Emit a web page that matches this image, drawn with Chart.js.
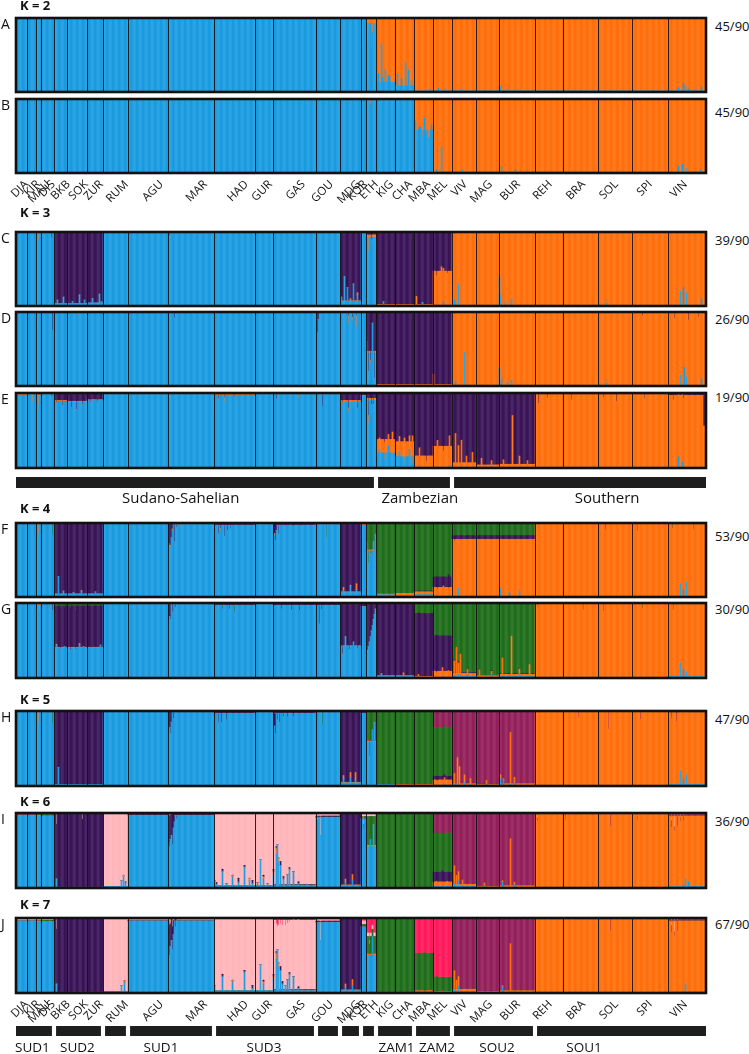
<!DOCTYPE html>
<html><head><meta charset="utf-8">
<script src="https://cdn.jsdelivr.net/npm/chart.js@4/dist/chart.umd.min.js"></script>
<style>
html,body{margin:0;padding:0;background:#fff;}
body{width:749px;height:1054px;position:relative;overflow:hidden;font-family:'Open Sans',sans-serif;}
canvas{position:absolute;}
.t{position:absolute;white-space:nowrap;color:#111;line-height:1;}
.rot{position:absolute;white-space:nowrap;color:#151515;font-size:11.5px;line-height:12px;transform-origin:0 0;transform:rotate(-45deg) translate(-100%,-50%);}
</style></head><body>
<script>
// ---------------- DATA ----------------
const populations = ['DJA','KIR','MAU','DIS','BKB','SOK','ZUR','RUM','AGU','MAR','HAD','GUR','GAS','GOU','MDG','KOR','ETH','KIG','CHA','MBA','MEL','VIV','MAG','BUR','REH','BRA','SOL','SPI','VIN'];
const sampleSizes = [11,9,5,13,13,20,16,25,40,46,41,18,43,24,21,5,10,19,19,19,19,24,23,36,28,35,34,36,38];
// individual index at which each rotated population label is anchored
const popLabelTick = [9,21,31,36,51,69,84,109,144,188,229,253,286,314,341,348,359,374,393,411,428,448,473,501,533,566,599,633,668];
const clusterNames = ['cl1','cl2','cl3','cl4','cl5','cl6','cl7'];
const clusterColors = ['#1b9be0','#ff6f0c','#3a1457','#1f6e1c','#92205a','#ffb5bb','#ff1a5c'];

const panelLetters = ['A','B','C','D','E','F','G','H','I','J'];
const panelK = [2,2,3,3,3,4,4,5,6,7];
const runSupport = ['45/90','45/90','39/90','26/90','19/90','53/90','30/90','47/90','36/90','67/90'];

// K=2 : [blue, orange]
const baseA = [[99,1],[99,1],[99,1],[99,1],[99,1],[99,1],[99,1],[99,1],[99,1],[99,1],[99,1],[99,1],[99,1],[99,1],[99,1],[99,1],[93,7],[13,87],[8,92],[1.5,98.5],[1.5,98.5],[1.5,98.5],[1.5,98.5],[1.5,98.5],[1.5,98.5],[1.5,98.5],[1.5,98.5],[1.5,98.5],[1.5,98.5]];
const spikesA = [[16,1,1,65,35],[16,3,1,88,12],[16,5,1,60,40],[16,6,1,80,20],[16,8,1,90,10],
 [17,2,1,25,75],[17,5,1,65,35],[17,6,1,20,80],[17,9,1,30,70],[17,12,2,22,78],[17,15,1,10,90],
 [18,2,1,25,75],[18,6,1,18,82],[18,10,1,40,60],[18,13,1,30,70],[18,16,1,15,85],
 [19,15,1,4,96],[20,5,1,5,95],[20,12,1,4,96],[21,10,1,3,97],[23,1,1,8,92],[23,8,1,4,96],[23,18,1,3,97],
 [28,10,1,6,94],[28,15,1,12,88],[28,17,1,8,92],[28,20,1,4,96],[28,33,1,7,93]];
const baseB = [[99,1],[99,1],[99,1],[99,1],[99,1],[99,1],[99,1],[99,1],[99,1],[99,1],[99,1],[99,1],[99,1],[99,1],[99,1],[99,1],[98,2],[98,2],[99,1],[58,42],[2,98],[1.5,98.5],[1.5,98.5],[1.5,98.5],[1.5,98.5],[1.5,98.5],[1.5,98.5],[1.5,98.5],[1.5,98.5]];
const spikesB = [[16,4,1,92,8],[19,0,2,70,30],[19,3,1,45,55],[19,5,2,62,38],[19,8,1,50,50],[19,10,1,75,25],[19,12,1,55,45],[19,14,2,48,52],[19,17,1,65,35],
 [20,8,1,35,65],[20,3,1,5,95],[21,10,1,4,96],[23,2,1,9,91],[23,16,1,5,95],
 [28,10,1,10,90],[28,14,1,12,88],[28,18,1,6,94],[28,32,1,5,95]];

// K=3 : [blue, orange, purple]
const baseC = [[99,0,1],[99,0,1],[98,1,1],[99,0,1],[3,0,97],[3,0,97],[4,0,96],[99,0,1],[99,0,1],[98,1,1],[99,0,1],[99,0,1],[99,0,1],[99,0,1],[6,1,93],[98,0,2],[93,3,4],[1,1,98],[1,1,98],[1,1,98],[1,46,53],[1,98,1],[1,98,1],[1,98,1],[1,98,1],[1,98,1],[1,98,1],[1,98,1],[1,98,1]];
const spikesC = [[2,2,1,90,10,0],[3,10,1,92,0,8],[4,3,1,8,0,92],[4,9,1,12,0,88],[5,5,1,6,0,94],[5,12,1,15,0,85],[5,17,1,8,0,92],[6,5,1,10,0,90],[6,12,1,16,0,84],[6,14,1,6,0,94],
 [9,1,1,90,5,5],[14,1,1,12,0,88],[14,4,1,40,0,60],[14,7,1,25,0,75],[14,10,1,8,2,90],[14,13,1,30,0,70],[14,17,1,15,3,82],
 [16,2,1,75,20,5],[16,5,1,85,5,10],[17,7,1,6,0,94],[19,2,1,1,12,87],[19,8,1,5,0,95],
 [20,3,1,1,40,59],[20,8,1,1,52,47],[20,14,1,0,44,56],[20,10,1,6,45,49],
 [21,6,1,30,69,1],[21,2,1,8,91,1],[23,0,1,40,59,1],[23,1,1,15,84,1],[23,6,1,6,93,1],[23,12,1,10,89,1],[26,8,1,4,95,1],
 [28,12,1,20,79,1],[28,15,1,25,74,1],[28,18,1,18,81,1],[28,33,1,10,89,1]];
const baseD = [[99,0,1],[99,0,1],[99,0,1],[99,0,1],[99,0,1],[99,0,1],[99,0,1],[99,0.5,0.5],[99,0.5,0.5],[99,0.5,0.5],[99,0.5,0.5],[99,0.5,0.5],[99,0.5,0.5],[99,0.5,0.5],[98,1,1],[99,0,1],[45,2,53],[1,1,98],[1,1,98],[1,1,98],[1,1,98],[1,98,1],[1,98,1],[1,98,1],[1,98,1],[1,98,1],[1,98,1],[1,98,1],[1,98,1]];
const spikesD = [[2,1,1,80,20,0],[3,11,1,75,0,25],[5,10,2,96,4,0],[9,6,1,92,0,8],[10,1,1,95,5,0],[13,1,1,72,0,28],[13,2,1,90,0,10],
 [14,8,1,85,10,5],[14,12,1,88,5,7],[14,16,1,80,15,5],
 [16,0,1,60,0,40],[16,2,1,20,0,80],[16,4,1,30,5,65],[16,6,1,85,0,15],[16,8,1,10,0,90],
 [20,0,1,1,15,84],[21,12,1,45,54,1],[21,3,1,6,93,1],[23,0,1,25,74,1],[23,2,1,10,89,1],[23,8,1,5,94,1],[23,12,1,8,91,1],
 [27,10,1,1,94,5],[28,6,1,1,90,9],[28,20,1,1,88,11],[28,30,1,1,92,7],
 [28,12,1,15,84,1],[28,16,1,25,74,1],[28,18,1,12,87,1],[28,33,1,10,89,1],[26,8,1,4,95,1]];
const baseE = [[97,1,2],[98,1,1],[96,2,2],[98,1,1],[89,1,10],[88,1,11],[90,1,9],[98,1,1],[98,1,1],[98,1,1],[97,1,2],[98,1,1],[98,1,1],[98,1,1],[88,2,10],[96,1,3],[90,3,7],[20,18,62],[15,20,65],[1,15,84],[1,28,71],[1,6,93],[1,3,96],[1,4,95],[1,97,2],[1,97,2],[1,97,2],[1,97,2],[1,96,3]];
const spikesE = [[1,5,1,88,10,2],[2,2,1,85,12,3],[3,10,1,94,1,5],[4,2,1,85,2,13],[4,8,1,82,1,17],[5,4,1,80,1,19],[5,9,1,76,2,22],[5,15,1,84,1,15],[6,3,1,86,2,12],[6,10,1,87,1,12],
 [9,1,1,94,4,2],[10,0,1,72,3,25],[10,4,1,90,2,8],[10,10,1,88,6,6],[10,20,1,93,2,5],[11,4,1,92,5,3],[12,3,1,90,2,8],[12,25,1,93,4,3],[13,6,1,82,0,18],
 [14,2,1,85,3,12],[14,8,1,75,5,20],[14,13,1,80,10,10],[14,17,1,78,2,20],[16,2,1,60,10,30],[16,5,1,70,15,15],[16,7,1,80,5,15],
 [17,3,1,25,15,60],[17,8,1,12,22,66],[17,12,1,30,15,55],[17,16,1,18,30,52],[18,4,1,22,20,58],[18,9,1,10,30,60],[18,14,1,25,18,57],[18,17,1,5,38,57],
 [19,5,1,2,25,73],[19,12,1,1,8,91],[20,4,1,2,35,63],[20,10,1,1,22,77],[20,16,1,3,40,57],
 [21,3,1,1,45,54],[21,6,1,0,30,70],[21,9,1,2,35,63],[21,14,1,1,15,84],[21,20,1,1,20,79],[22,5,1,1,12,87],[22,15,1,2,8,90],
 [23,4,1,1,10,89],[23,13,1,0,70,30],[23,20,1,2,14,84],[23,28,1,1,9,90],
 [24,3,1,1,85,14],[24,12,1,1,92,7],[25,8,1,1,90,9],[26,5,1,1,93,6],[26,18,1,1,88,11],[27,12,1,1,91,8],[28,5,1,1,90,9],[28,15,1,1,92,7],
 [28,10,1,15,83,2],[28,14,1,8,90,2],[28,35,3,1,55,44]];

// K=4 : [blue, orange, purple, green]
const baseF = [[99,0,1,0],[99,0,1,0],[98,1,1,0],[98,0,1,1],[4,0,96,0],[4,0,96,0],[4,0,96,0],[99,0,1,0],[99,0,1,0],[98,0,2,0],[97,0,3,0],[98,0,1,1],[97,0,3,0],[98,0,1,1],[6,1,93,0],[97,1,1,1],[62,2,0,36],[3,1,0,96],[2,3,0,95],[3,4,1,92],[1,12,14,73],[1,77,5,17],[1,77,5,17],[1,77,5,17],[1,98,0,1],[1,98,0,1],[1,98,0,1],[1,98,0,1],[1,97,0,2]];
const spikesF = [[2,2,1,85,15,0,0],[3,11,1,85,0,0,15],[4,4,1,28,0,72,0],[4,9,1,8,0,92,0],[5,6,1,6,0,94,0],[5,14,1,8,1,91,0],[6,8,1,7,0,93,0],
 [9,0,1,72,0,28,0],[9,1,2,68,2,30,0],[9,3,1,80,0,20,0],[9,4,1,90,2,8,0],[9,6,1,75,0,25,0],[9,8,1,94,0,6,0],[9,12,1,95,3,2,0],
 [10,0,1,88,2,10,0],[10,4,1,85,0,15,0],[10,6,1,90,3,7,0],[10,10,1,82,0,18,0],[10,13,1,86,4,10,0],[10,16,1,92,0,8,0],
 [12,0,1,80,0,20,0],[12,1,1,84,2,14,0],[12,2,1,76,0,24,0],[12,3,1,90,0,10,0],[12,5,1,85,0,15,0],[12,12,1,92,4,4,0],[12,20,1,95,0,5,0],[12,28,1,93,3,4,0],
 [13,10,1,80,0,0,20],[14,3,1,9,4,87,0],[14,10,1,15,1,84,0],[14,16,1,10,8,82,0],
 [16,0,1,70,5,0,25],[16,2,1,45,0,0,55],[16,4,1,55,3,0,42],[16,7,1,75,0,0,25],[16,9,1,85,0,0,15],
 [20,4,1,2,9,16,73],[20,10,1,1,14,12,73],[20,15,1,2,10,18,70],[21,2,1,1,75,6,18],[21,6,1,12,65,5,18],[21,12,1,1,77,4,18],
 [23,1,1,12,66,5,17],[23,10,1,6,72,5,17],[23,20,1,8,70,5,17],
 [26,7,1,1,90,0,9],[27,5,1,1,88,0,11],[28,4,1,1,92,0,7],[28,25,1,1,90,0,9],[28,12,1,18,81,0,1],[28,15,1,10,89,0,1],[28,18,1,20,79,0,1],[28,37,1,1,70,0,29]];
const baseG = [[99,0,0,1],[99,0,0,1],[97,2,0,1],[98,0,1,1],[40,1,55,4],[40,1,55,4],[40,1,55,4],[99,0,0,1],[98,0,1,1],[98,0,1,1],[97,0,1,2],[98,0,1,1],[97,0,2,1],[97,0,2,1],[42,1,55,2],[95,0,5,0],[55,1,44,0],[2,1,97,0],[2,1,97,0],[1,1,84,14],[1,8,47,44],[2,4,1,93],[1,2,0,97],[2,3,1,94],[1,98,0,1],[1,98,0,1],[1,98,0,1],[1,98,0,1],[2,96,0,2]];
const spikesG = [[2,3,1,90,8,1,1],[3,11,1,90,0,10,0],[4,2,1,44,1,50,5],[4,6,1,38,1,54,7],[4,10,1,42,0,52,6],[5,3,1,36,1,56,7],[5,8,1,38,0,52,10],[5,12,1,45,1,50,4],[5,16,1,42,0,53,5],[6,4,1,38,1,55,6],[6,13,1,44,0,52,4],
 [9,0,1,75,0,25,0],[9,1,1,82,0,18,0],[9,2,1,78,0,22,0],[9,4,1,88,0,12,0],[9,7,1,92,2,6,0],
 [10,0,1,78,0,0,22],[10,8,1,92,0,2,6],[10,15,1,90,2,8,0],[10,20,1,88,0,0,12],
 [12,0,1,90,0,10,0],[12,8,1,92,0,5,3],[12,18,1,88,2,10,0],[12,26,1,90,0,4,6],[13,3,1,72,0,28,0],[13,5,1,88,3,9,0],
 [14,2,1,30,2,66,2],[14,5,1,55,0,44,1],[14,9,1,35,3,60,2],[14,13,1,48,0,50,2],[14,17,1,38,1,58,3],
 [16,0,1,30,0,70,0],[16,1,1,35,2,63,0],[16,2,1,42,0,58,0],[16,3,1,48,0,52,0],[16,4,1,55,0,45,0],[16,5,1,62,1,37,0],[16,6,1,70,0,30,0],[16,7,1,78,0,22,0],[16,8,1,85,0,15,0],[16,9,1,92,0,8,0],
 [17,5,1,6,0,94,0],[18,8,1,4,3,93,0],[19,4,1,2,3,82,13],[19,12,1,1,1,82,16],[20,3,1,1,6,50,43],[20,9,1,2,12,42,44],[20,15,1,1,9,46,44],
 [21,2,1,3,20,1,76],[21,4,1,1,40,0,59],[21,6,1,5,15,2,78],[21,8,1,2,30,0,68],[21,15,1,4,8,1,87],[22,3,1,1,10,0,89],[22,15,1,5,4,1,90],
 [23,3,1,2,25,0,73],[23,12,1,1,55,0,44],[23,20,1,6,6,1,87],[23,30,1,3,15,0,82],
 [24,2,1,1,94,0,5],[25,20,1,1,90,0,9],[26,5,1,1,88,1,10],[27,10,1,1,92,0,7],[28,5,1,1,90,0,9],[28,12,1,20,79,0,1],[28,15,1,12,87,0,1],[28,18,1,8,91,0,1],[28,37,1,1,40,0,59]];

// K=5 : [blue, orange, purple, green, maroon]
const baseH = [[99,0,0,1,0],[99,0,0,1,0],[98,1,0,1,0],[98,0,0,2,0],[2,0,98,0,0],[2,0,98,0,0],[2,0,98,0,0],[99,0,1,0,0],[99,0,1,0,0],[98,0,2,0,0],[97,0,3,0,0],[98,0,1,0,1],[97,0,2,0,1],[98,0,0,2,0],[4,1,95,0,0],[97,0,1,2,0],[58,2,0,40,0],[2,0,0,98,0],[1,1,0,98,0],[1,1,0,98,0],[1,7,5,65,22],[1,2,0,0,97],[1,1,0,0,98],[1,2,0,0,97],[1,98,0,0,1],[1,98,0,0,1],[1,98,0,0,1],[1,98,0,0,1],[2,96,0,0,2]];
const spikesH = [[2,2,1,85,15,0,0,0],[3,11,1,84,0,0,16,0],[4,4,1,25,0,75,0,0],
 [9,0,1,72,0,28,0,0],[9,1,1,78,0,22,0,0],[9,2,1,70,0,30,0,0],[9,3,1,85,0,15,0,0],[9,5,1,90,0,10,0,0],
 [10,0,1,88,2,10,0,0],[10,4,1,84,0,16,0,0],[10,7,1,80,5,15,0,0],[10,12,1,88,0,12,0,0],
 [12,0,1,75,0,25,0,0],[12,1,1,80,0,15,0,5],[12,2,1,70,0,25,0,5],[12,4,1,88,0,10,0,2],[12,6,1,85,0,15,0,0],[12,10,1,92,0,5,0,3],[12,14,1,90,2,8,0,0],[12,20,1,93,0,7,0,0],
 [13,6,1,82,0,0,18,0],[14,3,1,10,4,86,0,0],[14,10,1,12,6,82,0,0],[14,15,1,8,10,82,0,0],
 [16,0,1,45,3,0,52,0],[16,3,1,35,5,0,60,0],[16,6,1,75,0,0,25,0],[16,8,1,85,0,0,15,0],
 [20,4,1,1,6,6,63,24],[20,11,1,2,9,4,66,19],
 [21,2,1,2,15,0,0,83],[21,5,1,3,35,0,2,60],[21,7,1,1,25,0,0,74],[21,12,1,5,10,0,0,85],[21,18,1,2,8,0,1,89],[22,10,1,3,5,0,0,92],
 [23,1,1,10,5,0,0,85],[23,4,1,8,2,0,0,90],[23,11,1,2,70,0,0,28],[23,15,1,4,8,0,0,88],
 [25,15,1,1,90,0,0,9],[26,10,1,1,75,0,0,24],[27,8,1,1,88,0,0,11],[28,3,1,1,90,0,0,9],[28,8,1,1,85,0,0,14],
 [28,12,1,20,79,0,0,1],[28,15,1,10,89,0,0,1],[28,18,1,15,84,0,0,1],[28,37,1,1,30,0,0,69]];

// K=6 : [blue, orange, purple, green, maroon, pink]
const baseI = [[97,0,0,0,1,2],[97,0,0,0,1,2],[96,1,0,1,0,2],[96,0,0,2,0,2],[1,0,98,0,0,1],[1,0,98,0,0,1],[1,0,98,0,0,1],[2,0,0,0,0,98],[97,0,1,0,0,2],[97,0,1,0,0,2],[3,0,0,0,0,97],[3,0,0,0,0,97],[3,0,1,0,0,96],[94,0,1,0,1,4],[3,1,95,0,0,1],[92,0,0,3,0,5],[55,2,0,38,0,5],[1,0,0,98,1,0],[1,0,0,98,1,0],[1,0,0,97,2,0],[2,6,13,52,27,0],[2,3,0,0,94,1],[1,1,0,0,97,1],[1,2,0,0,96,1],[1,97,0,0,1,1],[1,97,0,0,1,1],[1,97,0,0,1,1],[1,97,0,0,1,1],[2,94,0,0,2,2]];
const spikesI = [[4,2,1,12,0,73,0,0,15],[5,15,1,1,0,90,0,0,9],[7,18,1,10,0,0,0,0,90],[7,20,1,15,2,0,0,0,83],[7,22,1,8,0,0,0,0,92],
 [9,0,1,60,0,38,0,0,2],[9,1,1,55,0,40,0,0,5],[9,2,1,65,0,32,0,0,3],[9,3,1,70,0,28,0,0,2],[9,4,1,58,0,40,0,0,2],[9,5,1,80,0,18,0,0,2],[9,6,1,88,0,10,0,0,2],[9,8,1,92,0,6,0,0,2],
 [10,0,1,8,2,0,0,0,90],[10,2,1,5,0,2,0,0,93],[10,8,1,22,0,3,0,0,75],[10,12,1,6,0,0,0,0,94],[10,18,1,15,2,0,0,0,83],[10,24,1,8,0,5,0,0,87],[10,30,1,28,0,2,0,0,70],[10,35,1,10,3,0,0,0,87],[10,38,1,6,0,4,0,0,90],
 [11,2,1,5,2,0,0,0,93],[11,5,1,38,0,0,0,0,62],[11,8,1,12,3,2,0,0,83],[11,12,1,6,0,0,0,0,94],
 [12,0,1,20,2,3,0,0,75],[12,3,1,45,8,2,0,0,45],[12,4,1,58,0,0,0,0,42],[12,5,1,35,5,0,0,0,60],[12,7,1,30,0,5,0,0,65],[12,10,1,12,0,3,0,0,85],[12,14,1,18,0,0,0,0,82],[12,16,1,25,0,2,0,0,73],[12,20,1,22,0,0,0,0,78],[12,25,1,6,0,2,0,0,92],[12,33,1,5,0,0,0,0,95],
 [13,4,1,70,0,0,0,0,30],[13,1,1,90,0,0,0,0,10],[14,5,1,8,4,88,0,0,0],[14,12,1,10,8,82,0,0,0],[15,2,1,80,0,0,5,0,15],
 [16,0,1,40,3,0,50,0,7],[16,4,1,65,0,0,30,0,5],[16,7,1,85,0,0,10,0,5],
 [20,3,1,1,8,12,54,25,0],[20,9,1,3,5,15,50,27,0],[20,14,1,2,7,11,55,25,0],
 [21,2,1,5,25,0,0,70,0],[21,4,1,2,15,0,0,83,0],[21,6,1,10,12,0,0,78,0],[21,10,1,3,8,0,0,89,0],[22,8,1,3,4,0,0,93,0],
 [23,3,1,8,2,0,0,90,0],[23,11,1,1,65,0,0,34,0],[23,15,1,4,4,0,0,92,0],
 [24,2,1,1,88,0,0,5,6],[25,2,1,1,90,0,0,9,0],[26,12,1,1,82,0,0,14,3],[27,5,1,1,90,0,0,5,4],[28,3,1,1,80,0,0,9,10],[28,6,1,1,75,0,0,6,18],[28,9,1,1,82,0,0,12,5],[28,12,1,1,88,0,0,5,6],[28,15,1,4,86,0,0,5,5],
 [28,17,1,12,84,0,0,2,2],[28,20,1,8,88,0,0,2,2],[28,37,1,1,40,0,0,59,0]];

// K=7 : [blue, orange, purple, green, maroon, pink, hot pink]
const baseJ = [[96,0,0,0,0,2,2],[96,0,0,0,0,2,2],[95,1,0,1,0,2,1],[95,0,0,2,0,2,1],[1,0,98,0,0,1,0],[1,0,98,0,0,1,0],[1,0,98,0,0,1,0],[2,0,0,0,0,97,1],[96,0,1,0,0,2,1],[96,0,1,0,0,2,1],[3,0,0,0,0,96,1],[3,0,0,0,0,95,2],[3,0,1,0,0,93,3],[94,0,1,0,1,3,1],[3,1,95,0,0,1,0],[88,0,0,3,0,5,4],[50,2,0,23,0,5,20],[1,0,0,98,1,0,0],[1,0,0,98,1,0,0],[2,1,0,50,0,0,47],[1,1,0,19,0,0,79],[2,3,0,0,94,1,0],[1,1,0,0,97,1,0],[1,2,0,0,96,1,0],[1,97,0,0,1,1,0],[1,97,0,0,1,1,0],[1,97,0,0,1,1,0],[1,97,0,0,1,1,0],[2,94,0,0,2,2,0]];
const spikesJ = [[4,2,1,12,0,73,0,0,15,0],[7,18,1,10,0,0,0,0,90,0],[7,21,1,14,2,0,0,0,84,0],
 [9,0,1,60,0,36,0,0,4,0],[9,1,1,50,0,40,0,0,10,0],[9,2,1,62,0,30,0,0,8,0],[9,3,1,70,0,28,0,0,2,0],[9,4,1,58,0,30,0,0,12,0],[9,5,1,78,0,18,0,0,4,0],[9,7,1,88,0,10,0,0,2,0],
 [10,0,1,8,2,0,0,0,90,0],[10,8,1,22,0,3,0,0,75,0],[10,18,1,15,2,0,0,0,83,0],[10,30,1,28,0,2,0,0,70,0],[10,38,1,6,0,4,0,0,90,0],
 [11,5,1,38,0,0,0,0,62,0],[11,8,1,12,3,2,0,0,83,0],
 [12,0,1,20,2,3,0,0,65,10],[12,3,1,45,8,2,0,0,37,8],[12,4,1,58,0,0,0,0,30,12],[12,5,1,35,5,0,0,0,50,10],[12,7,1,30,0,5,0,0,57,8],[12,9,1,12,0,3,0,0,75,10],[12,12,1,10,0,0,0,0,80,10],[12,14,1,18,0,0,0,0,75,7],[12,16,1,25,0,2,0,0,68,5],[12,20,1,22,0,0,0,0,76,2],[12,25,1,6,0,2,0,0,92,0],
 [13,4,1,70,0,0,0,0,30,0],[14,5,1,8,4,88,0,0,0,0],[14,12,1,10,8,82,0,0,0,0],
 [16,0,1,35,3,0,30,0,2,30],[16,3,1,50,0,0,15,0,5,30],[16,6,1,75,0,0,10,0,5,10],
 [19,4,1,3,1,0,48,0,0,48],[19,10,1,1,0,0,53,0,0,46],[19,16,1,2,2,0,49,0,0,47],[20,3,1,2,0,0,20,0,0,78],[20,9,1,1,2,0,18,0,0,79],
 [21,2,1,5,25,0,0,70,0,0],[21,4,1,2,15,0,0,83,0,0],[21,6,1,10,12,0,0,78,0,0],[23,3,1,8,2,0,0,90,0,0],[23,11,1,1,65,0,0,34,0,0],
 [26,12,1,1,82,0,0,14,3,0],[28,3,1,1,80,0,0,9,10,0],[28,6,1,1,75,0,0,6,18,0],[28,9,1,1,82,0,0,12,5,0],[28,17,1,12,84,0,0,2,2,0],[28,37,1,1,40,0,0,50,0,9]];

const panelBase = [baseA,baseB,baseC,baseD,baseE,baseF,baseG,baseH,baseI,baseJ];
const panelSpikes = [spikesA,spikesB,spikesC,spikesD,spikesE,spikesF,spikesG,spikesH,spikesI,spikesJ];

// regional groupings (population index ranges)
const regionNames = ['Sudano-Sahelian','Zambezian','Southern'];
const regionFirst = [0,17,21];
const regionLast = [16,20,28];
const regionLabelAt = [164.7,403.8,591.2];
const clusterGroupNames = ['SUD1','SUD2','','SUD1','SUD3','','','','ZAM1','ZAM2','SOU2','SOU1'];
const clusterGroupFirst = [0,4,7,8,10,13,14,15,17,19,21,24];
const clusterGroupLast = [3,6,7,9,12,13,14,16,18,20,23,28];
const clusterGroupLabelAt = [16.4,61.4,null,145,248,null,null,null,380.5,421,481,568];

// ---------------- LAYOUT ----------------
const panelTop = [17,98,231,311,392,522,602,710,812,917];
const panelBottom = [93,174,307,387,469,598,679,787,889,994];
const supportY = [27,113,241,320,398,537,610,720,822,925];
const kTitle = [[2,6],[3,213],[4,509],[5,700],[6,802],[7,905]];

const popStart = []; let acc = 0; sampleSizes.forEach(n => { popStart.push(acc); acc += n; });
const N = acc;
const indivLabels = Array.from({length:N}, (_, i) => String(i+1));

function lighten(hex, t) {
  const r = parseInt(hex.slice(1,3),16), g = parseInt(hex.slice(3,5),16), b = parseInt(hex.slice(5,7),16);
  const m = v => Math.round(v + (255 - v) * t);
  return 'rgb(' + m(r) + ',' + m(g) + ',' + m(b) + ')';
}
const clusterLight = clusterColors.map(c => lighten(c, 0.08));

function expand(base, spikes) {
  const rows = [];
  populations.forEach((p, pi) => { for (let o = 0; o < sampleSizes[pi]; o++) rows.push(base[pi]); });
  spikes.forEach(s => {
    const [pi, off, w, ...vals] = s;
    for (let j = 0; j < w; j++) if (off + j < sampleSizes[pi]) rows[popStart[pi] + off + j] = vals;
  });
  return rows.map(r => { const t = r.reduce((a, b) => a + b, 0); return r.map(v => v * 100 / t); });
}

const panelDeco = {
  id: 'panelDeco',
  afterDatasetsDraw(chart) {
    const {ctx, chartArea: a} = chart; const xs = chart.scales.x;
    ctx.save();
    ctx.strokeStyle = 'rgba(18,18,18,0.9)'; ctx.lineWidth = 1;
    for (let pi = 1; pi < populations.length; pi++) {
      const s = popStart[pi];
      const x = Math.round((xs.getPixelForValue(s - 1) + xs.getPixelForValue(s)) / 2) + 0.5;
      ctx.beginPath(); ctx.moveTo(x, a.top); ctx.lineTo(x, a.bottom); ctx.stroke();
    }
    ctx.strokeStyle = '#111'; ctx.lineWidth = 2.6;
    ctx.strokeRect(a.left, a.top, a.right - a.left, a.bottom - a.top);
    ctx.restore();
  }
};

function addText(txt, x, yc, size, weight) {
  const d = document.createElement('div');
  d.className = 't'; d.textContent = txt;
  d.style.fontSize = size + 'px'; d.style.fontWeight = weight || 400;
  d.style.top = (yc - 0.53 * size) + 'px';
  d.style.left = x + 'px';
  document.body.appendChild(d);
}

function addPopLabels(chart, canvasTop) {
  const xs = chart.scales.x; const a = chart.chartArea;
  populations.forEach((p, i) => {
    const d = document.createElement('div');
    d.className = 'rot'; d.textContent = p;
    d.style.left = xs.getPixelForValue(popLabelTick[i]) + 'px';
    d.style.top = (canvasTop + a.bottom + 9) + 'px';
    document.body.appendChild(d);
  });
}

function makePanel(i) {
  const K = panelK[i];
  const rows = expand(panelBase[i], panelSpikes[i]);
  const withLabels = (i === 1 || i === 9);
  const top = panelTop[i] + 1, bottom = panelBottom[i] - 1, areaH = bottom - top;
  const padB = 3;
  const cv = document.createElement('canvas');
  cv.width = 712; cv.height = 3 + areaH + padB;
  const canvasTop = top - 3;
  cv.style.left = '0px'; cv.style.top = canvasTop + 'px';
  cv.style.width = '712px'; cv.style.height = cv.height + 'px';
  document.body.appendChild(cv);
  const chart = new Chart(cv, {
    type: 'bar',
    data: {
      labels: indivLabels,
      datasets: clusterNames.slice(0, K).map((nm, ci) => ({
        label: nm,
        data: rows.map(r => r[ci]),
        backgroundColor: rows.map((r, j) => (Math.floor(j / 3) % 2 ? clusterLight[ci] : clusterColors[ci])),
        borderWidth: 0, barPercentage: 1, categoryPercentage: 1
      }))
    },
    options: {
      responsive: false, maintainAspectRatio: false, animation: false, devicePixelRatio: 1,
      layout: {padding: {left: 16, right: 6, top: 3, bottom: padB}},
      plugins: {legend: {display: false}, tooltip: {enabled: false}},
      scales: {
        x: {stacked: true, display: false},
        y: {stacked: true, display: false, min: 0, max: 100}
      }
    },
    plugins: [panelDeco]
  });
  if (withLabels) addPopLabels(chart, canvasTop);
  addText(panelLetters[i], 1, panelTop[i] + 7, 14, 400);
  addText(runSupport[i], 715, supportY[i], 13, 400);
}

function makeGroups(barTop, barH, names, first, last, labelAt, baseline, fontPx) {
  const inset = 2.4;
  const cv = document.createElement('canvas');
  const padB = baseline - (barTop + barH) + 6;
  cv.width = 712; cv.height = 2 + barH + padB;
  cv.style.left = '0px'; cv.style.top = (barTop - 2) + 'px';
  cv.style.width = '712px'; cv.style.height = cv.height + 'px';
  document.body.appendChild(cv);
  const ranges = first.map((f, g) => [
    f === 0 ? 0 : popStart[f] + inset,
    last[g] === populations.length - 1 ? N : popStart[last[g]] + sampleSizes[last[g]] - inset
  ]);
  new Chart(cv, {
    type: 'bar',
    data: {labels: ['g'], datasets: ranges.map((r, g) => ({label: names[g] || 'g' + g, data: [r], backgroundColor: '#1e1e1e', borderWidth: 0, barPercentage: 1, categoryPercentage: 1, grouped: false}))},
    options: {
      indexAxis: 'y', responsive: false, maintainAspectRatio: false, animation: false, devicePixelRatio: 1,
      layout: {padding: {left: 16, right: 6, top: 2, bottom: padB}},
      plugins: {legend: {display: false}, tooltip: {enabled: false}},
      scales: {x: {type: 'linear', min: 0, max: N, display: false}, y: {display: false}}
    },
    plugins: [{
      id: 'groupLabels',
      afterDraw(chart) {
        const {ctx, chartArea: a} = chart; const xs = chart.scales.x;
        ctx.save(); ctx.fillStyle = '#111'; ctx.font = fontPx + 'px "Open Sans"';
        ctx.textAlign = 'center'; ctx.textBaseline = 'alphabetic';
        names.forEach((nm, g) => {
          if (!nm || labelAt[g] == null) return;
          ctx.fillText(nm, xs.getPixelForValue(labelAt[g]), a.bottom + (baseline - (barTop + barH)));
        });
        ctx.restore();
      }
    }]
  });
}

for (let i = 0; i < 10; i++) makePanel(i);
kTitle.forEach(([k, y]) => addText('K = ' + k, 20, y, 13, 700));
makeGroups(477, 11, regionNames, regionFirst, regionLast, regionLabelAt, 503, 15);
makeGroups(1026, 10, clusterGroupNames, clusterGroupFirst, clusterGroupLast, clusterGroupLabelAt, 1052, 13.5);
</script>
</body></html>
